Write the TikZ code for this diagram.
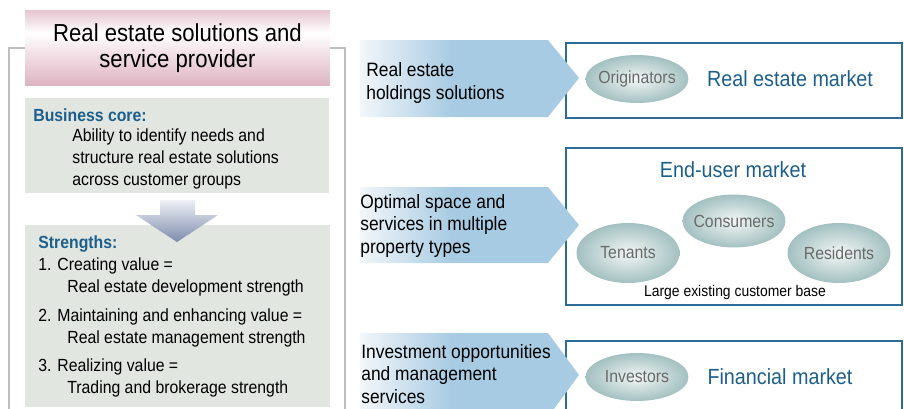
\documentclass[tikz,border=0pt]{standalone}
\usepackage{fontspec}
\setmainfont{Liberation Sans}[FakeStretch=0.9]
\usepackage{xcolor}
\usetikzlibrary{shapes.geometric,positioning}

\definecolor{pinktop}{HTML}{E6C4D0}
\definecolor{pinkdeep}{HTML}{DDB2C1}
\definecolor{coregray}{HTML}{E1E6E1}
\definecolor{headblue}{HTML}{1D5F8C}
\definecolor{boxblue}{HTML}{2C6C97}
\definecolor{chevblue}{HTML}{A7CBE2}
\definecolor{chevlight}{HTML}{F2F6FA}
\definecolor{ellinner}{HTML}{F3F7F6}
\definecolor{ellouter}{HTML}{A3C0C0}
\definecolor{grouptext}{HTML}{6A6A6A}
\definecolor{bracketgray}{HTML}{BEBEBE}
\definecolor{arrowtop}{HTML}{EEF0F5}
\definecolor{arrowbot}{HTML}{7C8BAC}

\pgfdeclareverticalshading{pinkfade}{100bp}{color(0bp)=(pinkdeep); color(25bp)=(pinkdeep);
  color(60bp)=(white); color(75bp)=(pinktop); color(100bp)=(pinktop)}
\pgfdeclarehorizontalshading{chevfade}{100bp}{color(0bp)=(chevlight); color(25bp)=(chevlight);
  color(46bp)=(chevblue); color(100bp)=(chevblue)}

\tikzstyle{heading} = [rectangle,
                       minimum width=6.1cm,
                       minimum height=1.52cm,
                       shading=pinkfade,
                       align=center,
                       font=\fontsize{14}{14.8}\selectfont]
\tikzstyle{panel} = [rectangle,
                     minimum width=6.1cm,
                     fill=coregray]
\tikzstyle{headtext} = [anchor=base west,
                        inner sep=0pt,
                        text=headblue,
                        font=\fontsize{10}{12.4}\selectfont\bfseries]
% multi-line nodes sit on the baseline of their last line
\tikzstyle{bodytext} = [anchor=base west,
                        inner sep=0pt,
                        align=left,
                        font=\fontsize{10}{12.4}\selectfont]
\tikzstyle{offertext} = [anchor=base west,
                         inner sep=0pt,
                         align=left,
                         font=\fontsize{11}{12.6}\selectfont]
\tikzstyle{marketbox} = [rectangle,
                         minimum width=6.72cm,
                         draw=boxblue,
                         line width=0.85pt]
\tikzstyle{market} = [text=headblue,
                      font=\fontsize{12.5}{15}\selectfont]
\tikzstyle{group} = [ellipse,
                     inner xsep=-4pt,
                     inner ysep=0pt,
                     minimum width=2.06cm,
                     minimum height=0.96cm,
                     inner color=ellinner,
                     outer color=ellouter,
                     text=grouptext,
                     font=\fontsize{10}{11}\selectfont]
\tikzstyle{chevron} = [shading=chevfade]
\tikzstyle{bracket} = [draw=bracketgray,
                       line width=1.1pt]

\begin{document}
\begin{tikzpicture}[x=0.02cm, y=-0.02cm]

    \useasboundingbox (0,0) rectangle (904,409);
    \clip (0,0) rectangle (904,409);

    % left column
    \node (title)     [heading]                             at (177.5,48)  {Real estate solutions and\\service provider};
    \node (core)      [panel, minimum height=1.9cm]         at (177,145.5) {};
    \node (strengths) [panel, minimum height=3.64cm]        at (177.5,316) {};
    \draw [bracket] (title.west) -| (9,415);
    \draw [bracket] (title.east) -| (345,415);

    \node (coretitle) [headtext] at (33,121)  {Business core:};
    \node (corebody)  [bodytext] at (72,185)  {Ability to identify needs and\\structure real estate solutions\\across customer groups};

    \shade [top color=arrowtop, bottom color=arrowbot]
        (160,200) -- (195,200) -- (195,215) -- (218,215) -- (177,242) -- (136,215) -- (160,215) -- cycle;

    \node (strtitle)  [headtext] at (38,248)  {Strengths:};
    \node (str1)      [bodytext] at (38,292)  {1. Creating value =\\\hspace*{0.58cm}Real estate development strength};
    \node (str2)      [bodytext] at (38,343)  {2. Maintaining and enhancing value =\\\hspace*{0.58cm}Real estate management strength};
    \node (str3)      [bodytext] at (38,393)  {3. Realizing value =\\\hspace*{0.58cm}Trading and brokerage strength};

    % market boxes
    \node (realbox) [marketbox, minimum height=1.5cm]  at (734,80.5) {};
    \node (endbox)  [marketbox, minimum height=3.14cm] at (734,226.5) {};
    \node (finbox)  [marketbox, minimum height=1.6cm]  at (734,381) {};

    % offers pointing into the markets
    \shade [chevron] (360,40)  -- (548,40)  -- (579,78)  -- (548,117) -- (360,117) -- cycle;
    \shade [chevron] (360,187) -- (548,187) -- (579,225) -- (548,263) -- (360,263) -- cycle;
    \shade [chevron] (360,333) -- (548,333) -- (579,375) -- (548,417) -- (360,417) -- cycle;

    \node (offer1) [offertext] at (366,99)  {Real estate\\holdings solutions};
    \node (offer2) [offertext] at (360,253) {Optimal space and\\services in multiple\\property types};
    \node (offer3) [offertext] at (361,403) {Investment opportunities\\and management\\services};

    \node (originators) [group] at (637,79)  {Originators};
    \node (realmkt)     [market] at (790,79) {Real estate market};

    \node (endmkt)    [market] at (733,170) {End-user market};
    \node (consumers) [group, minimum height=1.06cm] at (734,221) {Consumers};
    \node (tenants)   [group, minimum height=1.2cm]  at (628,253) {Tenants};
    \node (residents) [group, minimum height=1.2cm]  at (839,253) {Residents};
    \node (custbase)  [font=\fontsize{8.8}{10}\selectfont] at (735,293) {Large existing customer base};

    \node (investors) [group] at (637,377)  {Investors};
    \node (finmkt)    [market] at (780,377) {Financial market};

\end{tikzpicture}
\end{document}
